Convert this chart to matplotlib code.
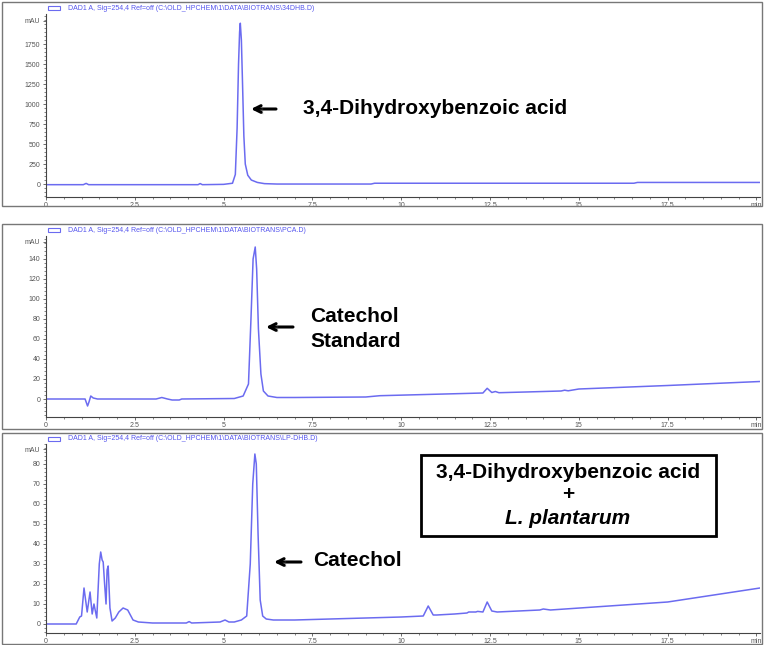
import matplotlib
matplotlib.use("Agg")
import matplotlib.pyplot as plt
from matplotlib.patches import Rectangle
from matplotlib.ticker import MultipleLocator
import matplotlib.patheffects as pe

plt.rcParams['font.family'] = ['Liberation Sans', 'DejaVu Sans']

W, H = 764, 645

# ---------------- data (retention time in min, signal in mAU) ----------------
t1 = [0, 1.05, 1.13, 1.2, 4.28, 4.34, 4.4, 5.0, 5.25, 5.33, 5.38, 5.42, 5.45, 5.47,
      5.50, 5.53, 5.57, 5.61, 5.68, 5.78, 5.95, 6.15, 6.5, 9.15, 9.25, 16.55, 16.65, 20.1]
v1 = [-8, -8, 8, -8, -8, 6, -8, -4, 10, 120, 700, 1500, 1900, 2010,
      1800, 1300, 600, 250, 110, 50, 20, 5, 0, 0, 10, 10, 20, 20]

t2 = [0, 1.1, 1.17, 1.21, 1.26, 1.33, 1.45, 3.1, 3.26, 3.42, 3.55, 3.75, 3.82, 5.3,
      5.55, 5.7, 5.77, 5.83, 5.89, 5.93, 5.98, 6.05, 6.12, 6.25, 6.5, 7.0, 9.0, 9.4,
      12.3, 12.42, 12.55, 12.65, 12.75, 13.5, 14.5, 14.6, 14.7, 15.0, 17.5, 20.1]
v2 = [0, 0, -7, -3, 3, 1, 0, 0, 1.5, 0, -1, -1, 0, 0.5,
      3, 15, 80, 140, 152, 130, 70, 25, 8, 3, 1.5, 1.5, 2, 3.3,
      6, 10.7, 6.5, 7.5, 6.3, 7, 8, 8.8, 8.2, 10, 13.5, 17.5]

t3 = [0, 0.85, 0.95, 1.0, 1.07, 1.16, 1.24, 1.30, 1.35, 1.43, 1.50, 1.54, 1.58, 1.61,
      1.65, 1.69, 1.72, 1.75, 1.80, 1.86, 1.95, 2.05, 2.17, 2.3, 2.45, 2.6, 3.0, 3.95,
      4.03, 4.1, 4.9, 5.04, 5.15, 5.3, 5.4, 5.5, 5.65, 5.75, 5.82, 5.88, 5.92, 5.97,
      6.03, 6.1, 6.2, 6.4, 7.0, 8.0, 10.0, 10.62, 10.76, 10.9, 11.0, 11.5, 11.85,
      11.9, 12.1, 12.15, 12.3, 12.42, 12.55, 12.7, 13.9, 14.0, 14.2, 17.5, 20.1]
v3 = [0, 0, 3.5, 4, 18, 6, 16, 5, 10, 3, 30, 36, 32, 31,
      20, 10, 27, 29, 8, 1.5, 3, 6, 8, 7, 2, 1, 0.5, 0.5,
      1.2, 0.5, 1, 2, 1, 1, 1.5, 2, 4, 30, 70, 85, 80, 45,
      12, 4, 2.5, 2, 2, 2.5, 3.5, 4, 9, 4.5, 4.5, 5, 5.5,
      6, 6, 6.3, 6, 11, 6.5, 6, 7, 7.5, 7, 11, 18]

titles = [
    r"DAD1 A, Sig=254,4 Ref=off (C:\OLD_HPCHEM\1\DATA\BIOTRANS\34DHB.D)",
    r"DAD1 A, Sig=254,4 Ref=off (C:\OLD_HPCHEM\1\DATA\BIOTRANS\PCA.D)",
    r"DAD1 A, Sig=254,4 Ref=off (C:\OLD_HPCHEM\1\DATA\BIOTRANS\LP-DHB.D)",
]
yticks = [[0, 250, 500, 750, 1000, 1250, 1500, 1750],
          list(range(0, 141, 20)),
          list(range(0, 81, 10))]
x_ticks = [0, 2.5, 5, 7.5, 10, 12.5, 15, 17.5, 20]
x_labels = ["0", "2.5", "5", "7.5", "10", "12.5", "15", "17.5", "min"]

series = [(t1, v1), (t2, v2), (t3, v3)]

# ---------------- layout (pixel boxes, top-left origin) ----------------
ax_px = [(46, 760, 14, 197), (46, 760, 236, 417), (46, 760, 444, 633)]
frame_px = [(2, 762, 2, 206), (2, 762, 224, 429), (2, 762, 433, 644)]
ylims = [(-162, 2125), (-18, 163), (-4.5, 90)]
yminor = [50, 4, 2]
mau_pos = [2040, 157, 87.5]

line_color = "#6b6bf0"
tick_color = "#555555"

fig = plt.figure(figsize=(W / 100, H / 100), dpi=100)

def fx(x):
    return x / W

def fy(y):
    return 1 - y / H

axes = []
for i in range(3):
    x0, x1, yt, yb = ax_px[i]
    ax = fig.add_axes([fx(x0), fy(yb), (x1 - x0) / W, (yb - yt) / H])
    axes.append(ax)
    t, v = series[i]
    ax.plot(t, v, color=line_color, lw=1.1, solid_joinstyle='round')
    ax.set_xlim(0, 20.1)
    ax.set_ylim(*ylims[i])
    for s in ['top', 'right']:
        ax.spines[s].set_visible(False)
    for s in ['left', 'bottom']:
        ax.spines[s].set_color("#444444")
        ax.spines[s].set_linewidth(0.8)
    ax.set_xticks(x_ticks)
    ax.set_xticklabels(x_labels)
    ax.xaxis.set_minor_locator(MultipleLocator(0.5))
    ax.set_yticks(yticks[i] + [mau_pos[i]])
    ax.set_yticklabels([str(k) for k in yticks[i]] + ["mAU"])
    ax.yaxis.set_minor_locator(MultipleLocator(yminor[i]))
    ax.tick_params(axis='both', which='major', labelsize=5, colors=tick_color,
                   length=2.5, width=0.6, pad=1.5, direction='out')
    ax.tick_params(axis='x', which='major', pad=0.8)
    ax.tick_params(axis='both', which='minor', length=1.3, width=0.5,
                   colors=tick_color, direction='out')
    ax.patch.set_alpha(0)

    a, b, c, d = frame_px[i]
    fig.patches.append(Rectangle((fx(a), fy(d)), (b - a) / W, (d - c) / H,
                                 transform=fig.transFigure, fill=False,
                                 edgecolor="#777777", lw=1.0, zorder=0))
    fig.patches.append(Rectangle((fx(48), fy(c + 8)), 12 / W, 4 / H,
                                 transform=fig.transFigure, fill=False,
                                 edgecolor=line_color, lw=0.8))
    fig.text(fx(68), fy(c + 6), titles[i], fontsize=5, color="#5555ee",
             va='center', ha='left')

shadow = [pe.SimplePatchShadow(offset=(1.5, -1.5), alpha=0.35), pe.Normal()]
arrow_kw = dict(arrowstyle='->', lw=2.2, color='black', mutation_scale=12,
                shrinkA=0, shrinkB=0)

def px2data(i, x, y):
    x0, x1, yt, yb = ax_px[i]
    lo, hi = ylims[i]
    tx = (x - x0) / (x1 - x0) * 20.1
    ty = lo + (yb - y) / (yb - yt) * (hi - lo)
    return tx, ty

FS = 15

ax = axes[0]
ann = ax.annotate('', xy=px2data(0, 251, 109), xytext=px2data(0, 276, 109),
                  arrowprops=arrow_kw)
ann.arrow_patch.set_path_effects(shadow)
ax.text(*px2data(0, 303, 108), "3,4-Dihydroxybenzoic acid", fontsize=FS,
        fontweight='bold', ha='left', va='center')

ax = axes[1]
ann = ax.annotate('', xy=px2data(1, 266, 327), xytext=px2data(1, 293, 327),
                  arrowprops=arrow_kw)
ann.arrow_patch.set_path_effects(shadow)
ax.text(*px2data(1, 310, 317), "Catechol", fontsize=FS, fontweight='bold',
        ha='left', va='center')
ax.text(*px2data(1, 310, 342), "Standard", fontsize=FS, fontweight='bold',
        ha='left', va='center')

ax = axes[2]
ann = ax.annotate('', xy=px2data(2, 274, 562), xytext=px2data(2, 301, 562),
                  arrowprops=arrow_kw)
ann.arrow_patch.set_path_effects(shadow)
ax.text(*px2data(2, 313, 561), "Catechol", fontsize=FS, fontweight='bold',
        ha='left', va='center')

fig.patches.append(Rectangle((fx(421), fy(536)), (716 - 421) / W, (536 - 455) / H,
                             transform=fig.transFigure, fill=False,
                             edgecolor='black', lw=2.0, zorder=5))
cx = fx(568)
fig.text(cx, fy(472), "3,4-Dihydroxybenzoic acid", fontsize=FS, fontweight='bold',
         ha='center', va='center')
fig.text(cx, fy(495), "+", fontsize=FS, fontweight='bold', ha='center', va='center')
fig.text(cx, fy(518), "L. plantarum", fontsize=FS, fontweight='bold',
         fontstyle='italic', ha='center', va='center')

fig.savefig("out.png", dpi=100)
